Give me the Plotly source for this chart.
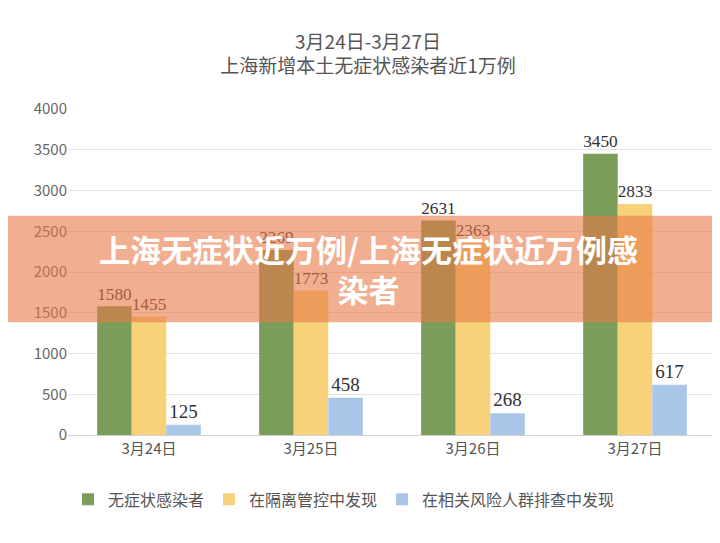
import plotly.graph_objects as go

dates = ["3月24日", "3月25日", "3月26日", "3月27日"]
asym = [1580, 2269, 2631, 3450]
control = [1455, 1773, 2363, 2833]
risk = [125, 458, 268, 617]

names = ["无症状感染者", "在隔离管控中发现", "在相关风险人群排查中发现"]
colors = ["#7a9e5a", "#f7d27a", "#a9c6e8"]

fig = go.Figure()
for name, vals, c in zip(names, [asym, control, risk], colors):
    fig.add_bar(x=dates, y=vals, name=name, marker=dict(color=c, line=dict(width=0)),
                text=[str(v) for v in vals], textposition="outside",
                textfont=dict(family="Liberation Serif", size=19, color="#333"), cliponaxis=False)

fig.update_layout(
    width=720, height=543, paper_bgcolor="white", plot_bgcolor="white",
    margin=dict(l=60, r=12, t=101, b=116, autoexpand=False),
    barmode="group", bargap=0.36, bargroupgap=0,
    title=dict(text="3月24日-3月27日<br>上海新增本土无症状感染者近1万例", x=0.5, y=0.925, yanchor="top",
               font=dict(family="Noto Sans CJK SC", size=19, color="#555")),
    font=dict(family="Noto Sans CJK SC", color="#555", size=14),
    yaxis=dict(range=[0, 4000], dtick=500, gridcolor="#e3e3e3", tickfont=dict(size=15, color="#666")),
    xaxis=dict(showline=True, linecolor="#d0d0d0", tickfont=dict(size=15, color="#555")),
    legend=dict(orientation="h", x=0.0, xanchor="left", yref="container", y=0.095, yanchor="middle",
                font=dict(size=16), itemwidth=30, tracegroupgap=0),
    showlegend=True,
)
fig.add_shape(type="rect", xref="paper", yref="paper", x0=-0.1, x1=1.02,
              y0=(435-322)/327, y1=(435-215)/327, fillcolor="rgba(232,120,70,0.6)", line_width=0, layer="above")
fig.add_annotation(xref="paper", yref="paper", x=(360-60)/648, xanchor="center", y=(435-268)/327, showarrow=False, align="center",
                   text="<b>上海无症状近万例/上海无症状近万例感<br>染者</b>", font=dict(size=31, color="white", family="Noto Sans CJK SC"))
fig.write_html("out.html")
